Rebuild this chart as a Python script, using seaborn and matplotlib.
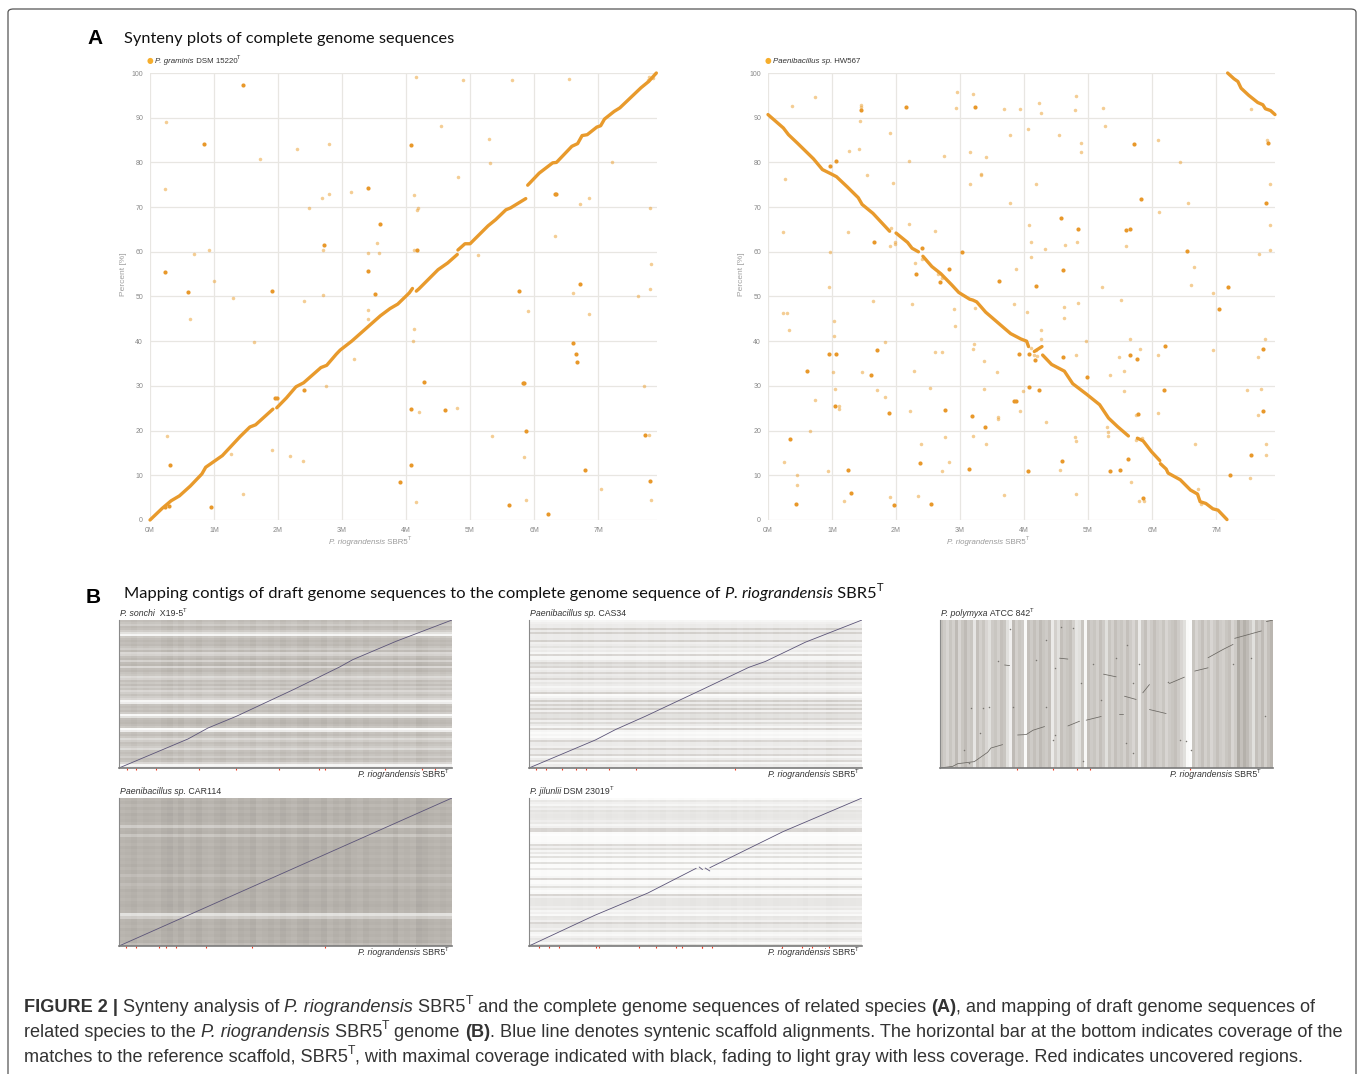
import pandas as pd
import seaborn as sns
import matplotlib.pyplot as plt
from matplotlib.colors import LinearSegmentedColormap
from matplotlib.patches import FancyBboxPatch

W, H = 1358, 1074

# Panel A, P. graminis
graminis_light_x = [.245, .23, .68, .92, 1.0, 1.29, 1.72, 2.29, 2.8, 4.16, 4.89, 5.66, 6.55, 7.78, 7.8, 7.86, 4.54, 5.29, 5.31, 4.81,
                    7.22, 3.14, 2.68, 2.8, 2.48, 4.12, 4.18, 4.17, 6.71, 6.86, 7.81, 3.54, 2.71, 3.4, 3.57, 4.13, 5.13, 6.33, 7.83, 7.81,
                    2.71, 6.6, 7.62, .62, 2.4, 3.4, 3.4, 5.91, 6.86, 4.12, 4.11, 1.63, 3.19, 2.75, 7.71, 4.8, 4.2, .27, 5.35, 7.8,
                    1.9, 2.18, 2.39, 1.27, 5.84, 1.45, 4.16, 5.87, 7.82, 7.05]
graminis_light_y = [89.0, 74.0, 59.5, 60.3, 53.5, 49.7, 80.8, 83.0, 84.1, 99.1, 98.5, 98.5, 98.7, 98.4, 99.2, 98.8, 88.2, 85.2, 79.8, 76.7,
                    80.0, 73.3, 72.0, 73.0, 69.9, 72.7, 69.8, 69.3, 70.7, 72.0, 69.7, 62.0, 60.3, 59.7, 59.8, 60.3, 59.3, 63.5, 57.2, 51.6,
                    50.3, 50.7, 50.1, 44.9, 49.0, 46.9, 44.9, 46.7, 46.0, 42.8, 40.1, 39.9, 36.1, 29.9, 29.9, 25.0, 24.2, 18.9, 18.9, 19.1,
                    15.6, 14.4, 13.3, 14.7, 14.2, 5.9, 4.0, 4.4, 4.4, 7.0]
graminis_dark_x = [1.46, .84, 3.4, 3.59, 2.72, 4.17, 6.32, 6.35, .23, 3.4, .6, 1.9, 3.51, 5.77, 6.71, 4.07, 6.6, 6.65, 6.67, 4.28,
                   5.82, 5.84, 1.96, 1.98, 2.4, 4.07, 4.61, 5.88, 7.74, .32, 4.08, 6.8, 7.81, 3.9, .95, 5.61, 6.22, .3, .24]
graminis_dark_y = [97.4, 84.1, 74.2, 66.3, 61.6, 60.5, 73.0, 73.0, 55.5, 55.6, 51.1, 51.3, 50.6, 51.2, 52.9, 84.0, 39.6, 37.1, 35.4, 30.8,
                   30.7, 30.6, 27.2, 27.3, 29.0, 24.9, 24.5, 20.0, 19.0, 12.3, 12.4, 11.1, 8.7, 8.4, 2.9, 3.3, 1.3, 3.2, 2.9]
graminis_line_x = [0, .19, .33, .46, .63, .81, .87, 1.13, 1.41, 1.56, 1.65, 1.92,
                   1.98, 2.13, 2.28, 2.4, 2.67, 2.76, 2.91, 2.97, 3.15, 3.6, 3.75, 3.87, 4.05, 4.1,
                   4.16, 4.2, 4.5, 4.65, 4.8,
                   4.81, 4.92, 5.0, 5.28, 5.4, 5.56, 5.63, 5.87,
                   5.9, 6.08, 6.29, 6.35, 6.59, 6.68, 6.75, 6.83, 6.98, 7.04, 7.1, 7.25, 7.34, 7.67, 7.79, 7.91]
graminis_line_y = [0, 2.6, 4.3, 5.4, 7.6, 10.3, 11.8, 14.4, 18.7, 20.8, 21.3, 24.8,
                   25.1, 27.3, 29.8, 30.7, 34.1, 34.6, 37.1, 38.0, 40.0, 45.7, 47.3, 48.3, 50.8, 51.8,
                   51.2, 51.7, 56.0, 57.5, 59.4,
                   60.4, 61.8, 61.8, 65.8, 67.2, 69.4, 69.8, 71.9,
                   74.9, 77.6, 79.9, 80.0, 83.6, 84.2, 86.0, 86.2, 87.9, 88.2, 89.7, 91.4, 92.2, 96.7, 98.1, 100]
graminis_line_seg = [1] * 12 + [2] * 14 + [3] * 5 + [4] * 8 + [5] * 16

# Panel A, Paenibacillus sp. HW567
hw567_light_x = [.37, .73, 1.45, 1.45, 1.44, 1.9, 1.42, 1.27, .27, 1.54, 1.95, 2.2, 2.75, 2.95, 3.2, 2.94, 3.69, 3.93, 4.24, 4.26,
                 4.81, 4.79, 5.24, 5.26, 3.15, 3.4, 3.78, 4.06, 4.54, 4.89, 4.89, 3.16, 3.32, 3.32, 4.18, 3.78, 6.1, 6.43, 6.56, 6.11,
                 7.55, 7.79, 7.84, 7.84, 7.84, 7.67, .24, 1.25, 2.61, 1.92, 2.21, 1.9, 1.98, 1.98, .97, 2.3, 2.4, 2.66, 2.72, 4.08,
                 4.11, 4.32, 4.64, 4.83, 5.6, 4.11, 3.87, .95, 5.22, 6.61, 6.65, 6.95, 5.52, 1.64,
                 .24, .29, .33, 1.03, 1.03, 1.02, 1.05, 1.11, 1.11, 1.47, .74, .66, .25, .45, .45, .94, 1.18, 1.82, 1.71, 1.83,
                 2.22, 2.25, 2.28, 2.53, 2.61, 2.72, 2.9, 2.92, 3.23, 3.22, 3.21, 3.38, 3.38, 3.58, 3.6, 3.6, 3.2, 3.41, 2.76, 2.39,
                 2.82, 2.72, 1.9, 2.35, 3.69, 3.85, 4.05, 4.63, 4.63, 4.85, 4.26, 4.26, 4.97, 4.81, 3.98, 3.94, 4.35, 4.79, 4.81, 4.56,
                 4.81, 5.66, 5.81, 6.09, 5.48, 5.56, 5.35, 5.56, 6.1, 5.75, 5.29, 5.31, 5.31, 5.75, 5.85, 5.67, 5.8, 5.87, 6.67, 6.71,
                 6.76, 6.95, 7.77, 7.66, 7.49, 7.7, 7.65, 7.78, 7.78, 7.53, 4.11, 4.18, 4.15, 4.2]
hw567_light_y = [92.6, 94.6, 92.8, 92.5, 89.2, 86.5, 83.1, 82.5, 76.2, 77.1, 75.3, 80.3, 81.4, 95.7, 95.4, 92.2, 91.9, 91.9, 93.3, 91.0,
                 94.9, 91.7, 92.2, 88.2, 82.3, 81.3, 86.1, 87.5, 86.1, 84.3, 82.3, 75.1, 77.5, 77.2, 75.2, 71.0, 85.0, 80.2, 71.0, 68.8,
                 91.9, 85.1, 75.1, 66.0, 60.5, 59.6, 64.4, 64.4, 64.6, 65.4, 66.2, 61.3, 61.8, 62.2, 60.0, 57.5, 58.5, 55.0, 54.2, 66.0,
                 62.3, 60.7, 61.5, 62.2, 61.4, 58.9, 56.1, 52.2, 52.2, 52.6, 56.6, 50.8, 49.2, 49.1,
                 46.2, 46.2, 42.5, 44.5, 41.1, 33.1, 29.3, 25.6, 24.9, 33.2, 26.8, 19.8, 12.9, 10.1, 7.9, 11.0, 4.2, 39.9, 29.0, 27.6,
                 24.3, 48.3, 33.3, 29.5, 37.5, 37.6, 47.3, 43.4, 47.4, 39.3, 38.3, 29.2, 35.6, 33.1, 23.0, 22.5, 18.8, 17.0, 18.5, 17.0,
                 12.9, 11.0, 5.2, 5.4, 5.7, 48.3, 46.6, 47.7, 45.3, 48.6, 42.5, 40.5, 40.0, 37.0, 28.8, 24.4, 21.9, 18.6, 17.6, 11.2,
                 5.9, 40.5, 38.2, 37.0, 36.5, 33.3, 32.5, 28.8, 24.0, 23.5, 20.9, 19.7, 18.7, 18.0, 18.4, 8.4, 4.3, 4.2, 17.1, 7.0,
                 3.5, 38.0, 40.5, 36.4, 29.0, 29.2, 23.5, 17.0, 14.5, 9.5, 38.5, 38.0, 37.0, 36.6]
hw567_dark_x = [2.15, 3.23, 1.46, .97, 1.06, 5.71, 7.81, 7.78, 5.83, 4.57, 4.85, 5.6, 5.66, 1.65, 2.4, 3.03, 6.54, 2.83, 4.61, 2.31,
                2.68, 3.61, 4.19, 7.18, 7.05, .95, 1.06, 1.7, .61, 1.61, 1.04, 1.89, 2.77, 3.18, 3.39, .34, 2.38, 1.25, 3.14, 1.29,
                .44, 1.97, 2.54, 3.92, 4.08, 4.17, 4.61, 5.65, 5.76, 6.2, 4.98, 6.19, 4.07, 4.23, 3.84, 3.87, 5.78, 4.6, 5.63, 5.35,
                5.5, 4.06, 7.21, 5.86, 7.74, 7.74, 7.54]
hw567_dark_y = [92.3, 92.4, 91.8, 79.2, 80.3, 84.2, 84.4, 70.9, 71.8, 67.6, 65.0, 64.9, 65.0, 62.3, 60.9, 60.0, 60.2, 56.2, 56.0, 55.0,
                53.3, 53.5, 52.3, 52.1, 47.1, 37.1, 37.1, 38.1, 33.3, 32.5, 25.6, 23.9, 24.7, 23.3, 20.7, 18.2, 12.7, 11.1, 11.4, 6.0,
                3.5, 3.3, 3.5, 37.2, 37.2, 35.7, 36.4, 36.9, 36.0, 38.9, 31.9, 29.0, 29.8, 29.0, 26.6, 26.6, 23.7, 13.2, 13.6, 11.0,
                11.1, 11.0, 10.0, 5.0, 24.4, 38.3, 14.6]
hw567_line_x = [0, .24, .32, .46, .71, .85, .99, 1.07, 1.24, 1.41, 1.47, 1.64, 1.9,
                2.0, 2.18, 2.25, 2.35,
                2.42, 2.56, 2.7, 2.87, 2.98, 3.15, 3.2, 3.26, 3.4, 3.7, 3.79, 3.95, 4.04, 4.07,
                4.16, 4.28,
                4.29, 4.43, 4.63, 4.76, 4.98, 5.18, 5.32, 5.46, 5.63,
                5.77, 5.86, 5.99, 6.12,
                6.13, 6.22, 6.25, 6.44, 6.6, 6.71, 6.75, 6.84, 6.95, 7.03, 7.17,
                7.18, 7.28, 7.34, 7.39, 7.51, 7.65, 7.73, 7.77, 7.85, 7.92]
hw567_line_y = [90.7, 87.7, 86.2, 84.3, 80.8, 78.4, 77.4, 76.8, 74.5, 72.1, 70.6, 68.6, 64.6,
                64.2, 62.1, 60.8, 60.0,
                59.0, 56.7, 55.1, 52.6, 50.9, 49.4, 49.2, 48.8, 46.5, 42.8, 41.7, 40.5, 40.0, 38.8,
                37.7, 38.8,
                36.9, 34.8, 33.3, 30.5, 28.1, 25.8, 22.8, 20.9, 18.8,
                18.3, 17.7, 15.3, 13.3,
                12.6, 11.4, 10.5, 9.0, 6.7, 5.8, 4.1, 3.7, 2.5, 2.2, 0.1,
                100, 98.7, 98.1, 96.6, 95.0, 93.4, 92.9, 92.0, 91.6, 90.7]
hw567_line_seg = [1] * 13 + [2] * 4 + [3] * 14 + [4] * 2 + [5] * 9 + [6] * 4 + [7] * 11 + [8] * 10

x_ticks = [0, 1, 2, 3, 4, 5, 6, 7]
x_tick_labels = ['0M', '1M', '2M', '3M', '4M', '5M', '6M', '7M']
y_ticks = [0, 10, 20, 30, 40, 50, 60, 70, 80, 90, 100]

# Panel B, grey level of every horizontal band, top to bottom
sonchi_rows = [190, 196, 205, 188, 192, 205, 225, 245, 200, 190, 185, 190, 186, 195, 205, 188, 215, 210, 192, 186,
               210, 188, 184, 215, 190, 186, 195, 200, 218, 210, 192, 200, 190, 205, 195, 215, 205, 195, 205, 215,
               245, 235, 195, 190, 195, 190, 205, 248, 225, 190, 186, 184, 190, 200, 250, 235, 195, 190, 200, 218,
               205, 192, 196, 205, 218, 195, 190, 195, 205, 190, 195, 215, 245, 240]
cas34_rows = [245, 240, 235, 235, 210, 235, 210, 235, 235, 235, 210, 240, 235, 226, 240, 235, 245, 214, 245, 245,
              235, 214, 226, 214, 240, 235, 214, 235, 232, 214, 240, 230, 235, 245, 240, 235, 210, 250, 245, 235,
              208, 235, 210, 232, 208, 240, 214, 226, 226, 214, 240, 220, 235, 245, 214, 245, 250, 245, 250, 240,
              214, 235, 235, 240, 214, 235, 235, 214, 245, 235, 214, 245, 235, 235]
car114_rows = [182, 178, 185, 178, 182, 176, 180, 178, 182, 205, 180, 178, 198, 180, 178, 182, 176, 180, 178, 182,
               178, 180, 176, 182, 178, 190, 180, 178, 188, 182, 176, 180, 178, 182, 178, 176, 180, 182, 225, 205,
               180, 178, 182, 176, 180, 178, 182, 178, 190]
jilunlii_rows = [250, 232, 240, 245, 232, 238, 226, 232, 230, 230, 232, 238, 232, 245, 240, 214, 214, 250, 252, 250,
                 250, 250, 248, 218, 240, 224, 245, 232, 248, 224, 248, 250, 224, 250, 250, 232, 250, 250, 250, 245,
                 214, 250, 250, 245, 224, 245, 250, 248, 214, 240, 230, 230, 230, 230, 238, 232, 245, 240, 248, 230,
                 232, 240, 214, 232, 232, 240, 224, 245, 248, 240, 230, 238, 248, 224]
# the P. polymyxa panel has vertical bands, left to right
polymyxa_cols = [195, 205, 215, 200, 210, 190, 215, 200, 190, 205, 200, 230, 195, 210, 200, 215, 225, 205, 200, 210,
                 195, 200, 225, 240, 190, 210, 200, 205, 250, 195, 205, 195, 205, 190, 200, 205, 195, 235, 210, 225,
                 195, 205, 200, 195, 210, 230, 225, 200, 248, 195, 205, 200, 210, 195, 205, 225, 200, 210, 195, 205,
                 200, 210, 195, 205, 215, 200, 235, 205, 195, 215, 205, 195, 205, 210, 200, 215, 205, 200, 195, 205,
                 215, 225, 250, 252, 200, 215, 205, 195, 210, 200, 215, 205, 195, 205, 210, 200, 195, 215, 205, 175,
                 195, 180, 190, 205, 225, 195, 205, 190, 210, 195, 185]
# how strong the speckled columns are in the horizontal band panels
speckle_cols = [.94, .96, 1.0, .94, .98, .96, .94, 1.02, 1.06, .97, 1.04, .94, .98, 1.04, .96, .94, 1.0, 1.04, .96, .94,
                1.02, .98, 1.04, .94, .97, 1.02, .96, 1.04, .98, .94, 1.02, 1.06, .96, .98, 1.04, .94, 1.0, .96, 1.04, .97,
                .94, 1.02, .96, .98, .94, .96, 1.04, .94, .97, .94, 1.06, 1.02, .96, .94, .98, .94]

# alignment lines, fractions of the panel
sonchi_line_x = [0, .207, .267, .352, .527, .662, .702, .832, 1]
sonchi_line_y = [0, .196, .27, .349, .533, .682, .732, .856, 1]
cas34_line_x = [0, .2, .26, .35, .52, .66, .71, .83, 1]
cas34_line_y = [0, .19, .26, .35, .53, .68, .72, .85, 1]
car114_line_x = [0, 1]
car114_line_y = [0, 1]
jilunlii_line_x = [0, .197, .357, .502, .511, .521, .529, .543, .543, .763, 1]
jilunlii_line_y = [0, .207, .358, .525, .534, .516, .527, .507, .529, .773, 1]
jilunlii_line_seg = [1, 1, 1, 1, 2, 2, 3, 3, 4, 4, 4]
polymyxa_seg_x = [0, .038, .053, .103, .143, .153, .188,
                  .233, .259, .279, .314,
                  .384, .419,
                  .439, .484,
                  .539, .549,
                  .554, .589,
                  .609, .629,
                  .629, .679,
                  .689, .734,
                  .765, .805,
                  .805, .85, .88,
                  .885, .965,
                  .98, 1,
                  .194, .209,
                  .359, .384,
                  .491, .529]
polymyxa_seg_y = [0, .011, .029, .043, .106, .135, .158,
                  .223, .226, .255, .28,
                  .284, .316,
                  .323, .348,
                  .366, .366,
                  .485, .463,
                  .508, .564,
                  .395, .368,
                  .571, .614,
                  .655, .677,
                  .745, .801, .835,
                  .876, .926,
                  .989, 1,
                  .696, .692,
                  .742, .736,
                  .634, .616]
polymyxa_seg_id = [1] * 7 + [2] * 4 + [3] * 2 + [4] * 2 + [5] * 2 + [6] * 2 + [7] * 2 + [8] * 2 + [9] * 2 + [10] * 2 + [11] * 3 + [12] * 2 + [13] * 2 + [14] * 2 + [15] * 2 + [16] * 2
polymyxa_dot_x = [.21, .344, .175, .289, .317, .562, .364, .399, .46, .424, .093, .13, .146, .22, .318, .12, .344, .339, .088, .073,
                  .429, .559, .579, .72, .74, .754, .975, .935, .879, .599, .529, .579, .484, .684]
polymyxa_dot_y = [.941, .677, .72, .727, .862, .829, .953, .946, .7, .576, .406, .406, .411, .413, .413, .237, .226, .192, .034, .124,
                  .05, .169, .102, .192, .185, .124, .35, .74, .7, .7, .74, .576, .46, .58]

# uncovered regions shown as red ticks under the panels
sonchi_red = [.025, .05, .11, .24, .35, .48, .6, .62, .8, .91, .95]
cas34_red = [.02, .05, .1, .14, .17, .24, .32, .62]
polymyxa_red = [.23, .34, .41, .45, .75]
car114_red = [.02, .05, .12, .14, .17, .26, .4, .62]
jilunlii_red = [.03, .06, .09, .2, .21, .33, .38, .44, .46, .52, .52, .55, .76, .82, .85, .9]


def px_axes(fig, left, top, right, bottom):
    return fig.add_axes([left / W, 1 - bottom / H, (right - left) / W, (bottom - top) / H])


def draw_runs(fig, x, y, runs, size, color='#222222', family='Liberation Sans'):
    # text pieces put next to each other, y is the baseline in pixels
    renderer = fig.canvas.get_renderer()
    for run, kind in runs:
        opts = dict(fontsize=size, color=color, family=family, va='baseline')
        y_run = y
        if kind == 'i':
            opts['style'] = 'italic'
        if kind == 'b':
            opts['weight'] = 'bold'
        if kind == 's':
            opts['fontsize'] = size * 0.68
            y_run = y - size * 0.62
        t = fig.text(x / W, 1 - y_run / H, run, **opts)
        x = t.get_window_extent(renderer).x1


def synteny_panel(fig, left, light_x, light_y, dark_x, dark_y, line_x, line_y, line_seg, legend_runs):
    ax = px_axes(fig, left, 73, left + 507, 520)
    ax.grid(True, color='#e8e6e2', linewidth=0.9)
    ax.set_axisbelow(True)
    line = pd.DataFrame({'x': line_x, 'y': line_y, 'seg': line_seg})
    sns.scatterplot(x=light_x, y=light_y, color='#eba43c', alpha=0.55, s=6.5, linewidth=0, ax=ax, clip_on=False)
    sns.scatterplot(x=dark_x, y=dark_y, color='#e8982a', s=9, linewidth=0, ax=ax, clip_on=False)
    sns.lineplot(data=line, x='x', y='y', units='seg', estimator=None, sort=False, color='#e89a2c',
                 linewidth=2.4, ax=ax, clip_on=False, solid_capstyle='round')
    ax.set_xlim(0, 7.92)
    ax.set_ylim(0, 100)
    ax.set_xticks(x_ticks)
    ax.set_xticklabels(x_tick_labels)
    ax.set_yticks(y_ticks)
    ax.tick_params(length=0, labelsize=5, labelcolor='#888888', pad=5)
    ax.set_xlabel('')
    ax.set_ylabel('Percent [%]', fontsize=6, color='#a0a0a0', labelpad=4)
    ax.yaxis.set_label_coords(-0.045, 0.55)
    for s in ax.spines.values():
        s.set_visible(False)
    fig.text(left / W, 1 - 60 / H, '\u25cf', fontsize=5.5, color='#f6ae2d', va='center', ha='center', family='DejaVu Sans')
    draw_runs(fig, left + 5, 63, legend_runs, 5.7, color='#333333')
    draw_runs(fig, left + 179, 544, [('P. riograndensis', 'i'), (' SBR5', 'n'), ('T', 's')], 5.7, color='#9a9a9a')
    return ax


def band_panel(fig, left, top, matrix, title_runs, label_x, red):
    ax = px_axes(fig, left, top, left + 333, top + 148)
    sns.heatmap(matrix, cmap=band_cmap, vmin=0, vmax=255, cbar=False, xticklabels=False, yticklabels=False, ax=ax)
    over = px_axes(fig, left, top, left + 333, top + 148)
    over.patch.set_alpha(0)
    over.set_xlim(0, 1)
    over.set_ylim(0, 1)
    over.set_xticks([])
    over.set_yticks([])
    over.grid(False)
    for s in over.spines.values():
        s.set_visible(False)
    over.spines['left'].set_visible(True)
    over.spines['left'].set_color('#8a8a8a')
    over.spines['left'].set_linewidth(0.8)
    over.spines['bottom'].set_visible(True)
    over.spines['bottom'].set_color('#7a7a7a')
    over.spines['bottom'].set_linewidth(1.2)
    sns.scatterplot(x=red, y=[-0.006] * len(red), color='#ee3a22', marker='|', s=4, linewidth=0.8, ax=over, clip_on=False)
    draw_runs(fig, left + 1, top - 4, title_runs, 6.3, color='#333333')
    draw_runs(fig, label_x, top + 157, [('P. riograndensis', 'i'), (' SBR5', 'n'), ('T', 's')], 6.3, color='#333333')
    return over


def rows_matrix(rows):
    # rows come from the picture, the speckled columns darken them a bit
    return pd.DataFrame([[255 - (255 - r) * c for c in speckle_cols] for r in rows])


sns.set_theme(style='white')
plt.rcParams['font.family'] = ['Liberation Sans', 'DejaVu Sans']
band_cmap = LinearSegmentedColormap.from_list('bands', [(0, '#000000'), (185 / 255, '#bab6b0'), (1, '#ffffff')])

fig = plt.figure(figsize=(W / 100, H / 100), dpi=100, facecolor='white')

# outer frame of the figure
fig.add_artist(FancyBboxPatch((8 / W, -0.05), (1348) / W, 1 - 9 / H + 0.05, transform=fig.transFigure,
                              boxstyle='round,pad=0,rounding_size=0.004', fill=False, edgecolor='#555555', linewidth=0.9,
                              mutation_aspect=H / W))

fig.text(87 / W, 1 - 44 / H, 'A', fontsize=15, weight='bold', color='black', va='baseline')
fig.text(124 / W, 1 - 43 / H, 'Synteny plots of complete genome sequences', fontsize=11.84, family='Lato', color='#111111', va='baseline')
synteny_panel(fig, 150, graminis_light_x, graminis_light_y, graminis_dark_x, graminis_dark_y,
              graminis_line_x, graminis_line_y, graminis_line_seg,
              [('P. graminis', 'i'), (' DSM 15220', 'n'), ('T', 's')])
synteny_panel(fig, 768, hw567_light_x, hw567_light_y, hw567_dark_x, hw567_dark_y,
              hw567_line_x, hw567_line_y, hw567_line_seg,
              [('Paenibacillus sp.', 'i'), (' HW567', 'n')])

fig.text(86 / W, 1 - 603 / H, 'B', fontsize=15, weight='bold', color='black', va='baseline')
draw_runs(fig, 124, 598, [('Mapping contigs of draft genome sequences to the complete genome sequence of ', 'n'),
                          ('P. riograndensis', 'i'), (' SBR5', 'n'), ('T', 's')], 11.86, color='#111111', family='Lato')

line_color = '#5b5478'

ax1 = band_panel(fig, 119, 620, rows_matrix(sonchi_rows), [('P. sonchi', 'i'), ('  X19-5', 'n'), ('T', 's')], 358, sonchi_red)
sns.lineplot(x=sonchi_line_x, y=sonchi_line_y, sort=False, estimator=None, color=line_color, linewidth=0.6, ax=ax1)

ax2 = band_panel(fig, 529, 620, rows_matrix(cas34_rows), [('Paenibacillus sp.', 'i'), (' CAS34', 'n')], 768, cas34_red)
sns.lineplot(x=cas34_line_x, y=cas34_line_y, sort=False, estimator=None, color=line_color, linewidth=0.6, ax=ax2)

ax3 = band_panel(fig, 940, 620, pd.DataFrame([polymyxa_cols]), [('P. polymyxa', 'i'), (' ATCC 842', 'n'), ('T', 's')], 1170, polymyxa_red)
polymyxa_segs = pd.DataFrame({'x': polymyxa_seg_x, 'y': polymyxa_seg_y, 'seg': polymyxa_seg_id})
sns.lineplot(data=polymyxa_segs, x='x', y='y', units='seg', estimator=None, sort=False, color='#6a6762', linewidth=0.55, ax=ax3)
sns.scatterplot(x=polymyxa_dot_x, y=polymyxa_dot_y, color='#7a7772', s=1.2, linewidth=0, ax=ax3)
ax3.set_xlabel('')
ax3.set_ylabel('')

ax4 = band_panel(fig, 119, 798, rows_matrix(car114_rows), [('Paenibacillus sp.', 'i'), (' CAR114', 'n')], 358, car114_red)
sns.lineplot(x=car114_line_x, y=car114_line_y, sort=False, estimator=None, color=line_color, linewidth=0.6, ax=ax4)

ax5 = band_panel(fig, 529, 798, rows_matrix(jilunlii_rows), [('P. jilunlii', 'i'), (' DSM 23019', 'n'), ('T', 's')], 768, jilunlii_red)
jilunlii_line = pd.DataFrame({'x': jilunlii_line_x, 'y': jilunlii_line_y, 'seg': jilunlii_line_seg})
sns.lineplot(data=jilunlii_line, x='x', y='y', units='seg', estimator=None, sort=False, color=line_color, linewidth=0.6, ax=ax5)
for a in [ax1, ax2, ax4, ax5]:
    a.set_xlabel('')
    a.set_ylabel('')
    a.set_xlim(0, 1)
    a.set_ylim(0, 1)
ax3.set_xlim(0, 1)
ax3.set_ylim(0, 1)

# caption
caption_size = 13.02
draw_runs(fig, 24, 1012, [('FIGURE 2 | ', 'b'), ('Synteny analysis of ', 'n'), ('P. riograndensis', 'i'), (' SBR5', 'n'), ('T', 's'),
                          (' and the complete genome sequences of related species ', 'n'), ('(A)', 'b'),
                          (', and mapping of draft genome sequences of', 'n')], caption_size, color='#333333')
draw_runs(fig, 24, 1037, [('related species to the ', 'n'), ('P. riograndensis', 'i'), (' SBR5', 'n'), ('T', 's'), (' genome ', 'n'), ('(B)', 'b'),
                          ('. Blue line denotes syntenic scaffold alignments. The horizontal bar at the bottom indicates coverage of the', 'n')], caption_size, color='#333333')
draw_runs(fig, 24, 1062, [('matches to the reference scaffold, SBR5', 'n'), ('T', 's'),
                          (', with maximal coverage indicated with black, fading to light gray with less coverage. Red indicates uncovered regions.', 'n')], caption_size, color='#333333')

fig.savefig('out.png', dpi=100)
